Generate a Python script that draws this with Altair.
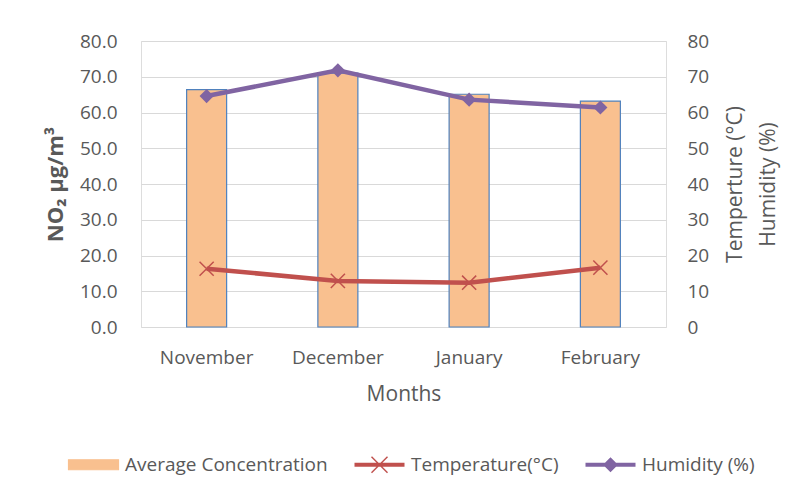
import altair as alt
import pandas as pd

months = ["November", "December", "January", "February"]
no2 = [66.4, 71.0, 65.1, 63.2]
temperature = [16.3, 12.9, 12.4, 16.6]
humidity = [64.6, 71.8, 63.6, 61.4]

series_names = ["Average Concentration", "Temperature(°C)", "Humidity (%)"]
series_colors = ["#F9C08F", "#C0504D", "#8064A2"]
bar_stroke = "#4F81BD"
grey = "#595959"
font = "Open Sans"

df_bar = pd.DataFrame({"Month": months, "Value": no2, "Series": series_names[0]})
df_line = pd.concat([
    pd.DataFrame({"Month": months, "Value": temperature, "Series": series_names[1]}),
    pd.DataFrame({"Month": months, "Value": humidity, "Series": series_names[2]}),
])

color_scale = alt.Scale(domain=series_names, range=series_colors)

x_enc = alt.X("Month:N", sort=months,
              scale=alt.Scale(paddingInner=0, paddingOuter=0),
              axis=alt.Axis(title="Months", labelAngle=0, ticks=False, domain=False,
                            labelPadding=21, titlePadding=16, labelFontSize=19,
                            titleFontSize=21, labelColor=grey, titleColor=grey,
                            labelFont=font, titleFont=font, titleFontWeight="normal"))

bar_shape = "M-1,-0.2H1V0.2H-1Z"
temp_shape = ("M-1,-0.08H1V0.08H-1Z"
              "M-0.34,-0.3L-0.3,-0.34L0.34,0.3L0.3,0.34Z"
              "M-0.34,0.3L0.3,-0.34L0.34,-0.3L-0.3,0.34Z")
hum_shape = "M-1,-0.08H1V0.08H-1ZM0,-0.3L0.3,0L0,0.3L-0.3,0Z"

is_bar = f"datum.value === '{series_names[0]}'"
is_temp = f"datum.value === '{series_names[1]}'"
fill_expr = (f"{is_bar} ? '{series_colors[0]}' : {is_temp} ? '{series_colors[1]}' : '{series_colors[2]}'")

legend = alt.Legend(
    orient="none", legendX=-57, legendY=414, direction="horizontal", title=None,
    labelFont=font, labelFontSize=19, labelColor=grey, labelOffset=22, labelLimit=400,
    columnPadding=26, symbolSize=2500,
    symbolType={"expr": f"{is_bar} ? '{bar_shape}' : {is_temp} ? '{temp_shape}' : '{hum_shape}'"},
    symbolFillColor={"expr": fill_expr},
    symbolStrokeColor=bar_stroke,
    symbolStrokeWidth={"expr": f"{is_bar} ? 1.2 : 0"},
    symbolOpacity=1,
)

bars = alt.Chart(df_bar).mark_bar(size=40, stroke=bar_stroke, strokeWidth=1.2, opacity=1).encode(
    x=x_enc,
    y=alt.Y("Value:Q", scale=alt.Scale(domain=[0, 80]),
            axis=alt.Axis(title="NO₂ µg/m³", format=".1f", values=list(range(0, 81, 10)),
                          ticks=False, domain=False, labelPadding=24, titlePadding=12,
                          labelFontSize=19, titleFontSize=22, labelColor=grey, titleColor=grey,
                          labelFont=font, titleFont=font, titleFontWeight="bold",
                          gridColor="#D9D9D9", gridWidth=1)),
    color=alt.Color("Series:N", scale=color_scale, legend=legend),
)

y_right = alt.Y("Value:Q", scale=alt.Scale(domain=[0, 80]),
                axis=alt.Axis(orient="right", title=["Temperture (°C)", "Humidity (%)"],
                              values=list(range(0, 81, 10)), ticks=False, domain=False, grid=False,
                              labelPadding=21, titlePadding=4, titleAngle=270, titleLineHeight=33,
                              labelFontSize=19, titleFontSize=21, labelColor=grey, titleColor=grey,
                              labelFont=font, titleFont=font, titleFontWeight="normal"))

lines = alt.Chart(df_line).mark_line(strokeWidth=4.5).encode(
    x=alt.X("Month:N", sort=months),
    y=y_right,
    color=alt.Color("Series:N", scale=color_scale, legend=legend),
    detail="Series:N",
)

temp_pts = alt.Chart(df_line).transform_filter(
    alt.datum.Series == series_names[1]
).mark_point(shape="M-1,-1L1,1M-1,1L1,-1", filled=False, strokeWidth=1.5, size=200, opacity=1).encode(
    x=alt.X("Month:N", sort=months),
    y=y_right,
    color=alt.Color("Series:N", scale=color_scale, legend=legend),
)

hum_pts = alt.Chart(df_line).transform_filter(
    alt.datum.Series == series_names[2]
).mark_point(shape="diamond", filled=True, size=200, opacity=1).encode(
    x=alt.X("Month:N", sort=months),
    y=y_right,
    color=alt.Color("Series:N", scale=color_scale, legend=legend),
)

chart = alt.layer(bars, alt.layer(lines, temp_pts, hum_pts)).resolve_scale(
    y="independent"
).properties(
    width=525, height=286,
    padding={"left": 36, "top": 24, "right": 5, "bottom": 0},
).configure_view(stroke=None).configure(background="white")

chart.save("out.html", embed_options={"renderer": "svg", "actions": False})
